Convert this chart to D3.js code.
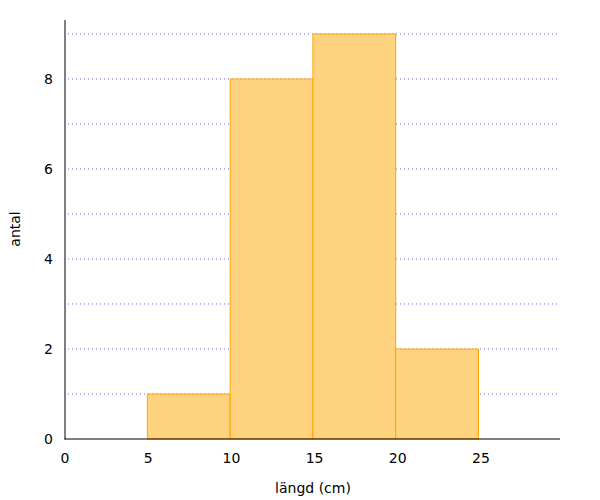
<!DOCTYPE html><html><head><script src="https://d3js.org/d3.v7.min.js"></script>
<style>body{margin:0;background:#fff}</style></head><body><svg width="600" height="500"></svg>
<script>
const binEdges=[4.95,9.925,14.9,19.875,24.85];
const counts=[1,8,9,2];
const xTicks=[0,5,10,15,20,25];
const yTicks=[0,2,4,6,8];
const gridVals=[1,2,3,4,5,6,7,8,9];
const svg=d3.select("svg");
const x=d3.scaleLinear().domain([0,29.75]).range([65,560]);
const y=d3.scaleLinear().domain([0,9.31]).range([439,20]);
const font="DejaVu Sans, sans-serif";
svg.selectAll(".g").data(gridVals).enter().append("line")
 .attr("x1",68).attr("x2",558).attr("y1",d=>y(d)).attr("y2",d=>y(d))
 .attr("stroke","#6666ff").attr("stroke-width",1).attr("stroke-dasharray","1,3");
svg.selectAll(".b").data(counts).enter().append("rect")
 .attr("x",(d,i)=>x(binEdges[i])).attr("width",(d,i)=>x(binEdges[i+1])-x(binEdges[i]))
 .attr("y",d=>y(d)).attr("height",d=>y(0)-y(d))
 .attr("fill","#ffd280").attr("stroke","#ffa500").attr("stroke-width",1);
svg.append("line").attr("x1",65).attr("x2",65).attr("y1",20).attr("y2",439.5).attr("stroke","#000");
svg.append("line").attr("x1",64.5).attr("x2",560).attr("y1",439).attr("y2",439).attr("stroke","#000");
svg.selectAll(".xt").data(xTicks).enter().append("text").attr("x",d=>x(d)).attr("y",463)
 .attr("text-anchor","middle").attr("font-family",font).attr("font-size",14).text(d=>d);
svg.selectAll(".yt").data(yTicks).enter().append("text").attr("x",53).attr("y",d=>y(d)+5)
 .attr("text-anchor","end").attr("font-family",font).attr("font-size",14).text(d=>d);
svg.append("text").attr("x",313).attr("y",493).attr("text-anchor","middle").attr("font-family",font).attr("font-size",14).text("längd (cm)");
svg.append("text").attr("transform","translate(20,229) rotate(-90)").attr("text-anchor","middle").attr("font-family",font).attr("font-size",14).text("antal");
</script></body></html>
